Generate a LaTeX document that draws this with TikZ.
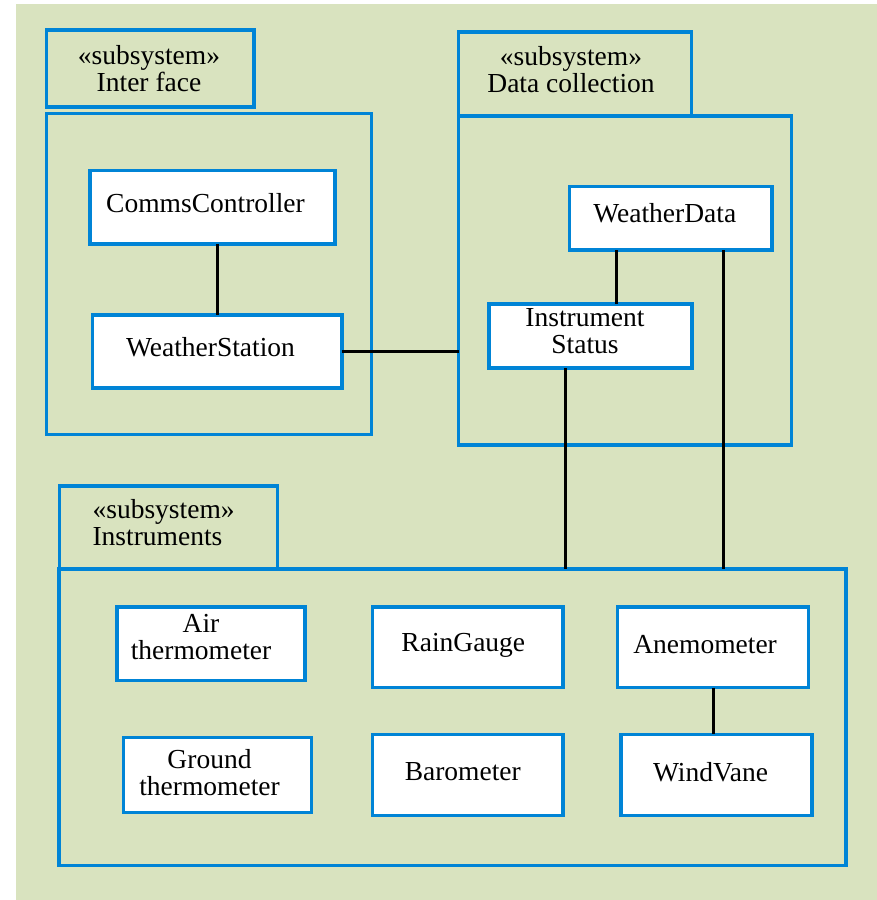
\documentclass[tikz,border=0pt]{standalone}
\usepackage{fontspec}
\setmainfont{Liberation Serif}
\definecolor{bgc}{RGB}{217,227,191}
\definecolor{umlblue}{RGB}{0,132,214}
\begin{document}
\begin{tikzpicture}[x=1pt,y=-1pt,
  pkg/.style={draw=umlblue,line width=3.5pt,rectangle,inner sep=0pt,outer sep=0pt},
  txt/.style={align=center,inner sep=0pt,font=\fontsize{27.5pt}{27pt}\selectfont},
  tabbox/.style={pkg},
  cls/.style={pkg,fill=white},
  link/.style={draw=black,line width=3pt}]
\useasboundingbox (0,0) rectangle (877,900);
\fill[bgc] (16,4) rectangle (877,900);

% package bodies
\node[pkg,minimum width=325pt,minimum height=321pt] (ifbody) at (209,274) {};
\node[pkg,minimum width=333pt,minimum height=329pt] (dcbody) at (625.2,280.5) {};
\node[pkg,minimum width=787pt,minimum height=296.5pt] (inbody) at (452.3,717.3) {};

% tabs
\node[tabbox,minimum width=207.5pt,minimum height=77pt,
  label={[txt,name=iftabt,xshift=-1pt,yshift=0pt]center:«subsystem»\\Inter face}] (iftab) at (150,68.5) {};
\node[tabbox,minimum width=232.6pt,minimum height=84pt,
  label={[txt,name=dctabt,xshift=-4pt,yshift=4.5pt]center:«subsystem»\\Data collection}] (dctab) at (575,74) {};
\node[tabbox,minimum width=218pt,minimum height=83pt,
  label={[txt,align=left,name=intabt,xshift=-5pt,yshift=4.5pt]center:«subsystem»\\Instruments}] (intab) at (168.6,527.5) {};

% classes
\node[cls,minimum width=245pt,minimum height=73.5pt,
  label={[txt,name=cct,xshift=-7pt,yshift=4pt]center:CommsController}] (cc) at (212.5,207) {};
\node[cls,minimum width=249.5pt,minimum height=73pt,
  label={[txt,name=wst,xshift=-6.5pt,yshift=4pt]center:WeatherStation}] (ws) at (217,351.5) {};
\node[cls,minimum width=202.3pt,minimum height=63.7pt,
  label={[txt,name=wdt,xshift=-6pt,yshift=5.5pt]center:WeatherData}] (wd) at (670.8,218.2) {};
\node[cls,minimum width=203pt,minimum height=64pt,
  label={[txt,name=ist,xshift=-5.5pt,yshift=5pt]center:Instrument\\Status}] (is) at (590.5,336) {};
\node[cls,minimum width=188pt,minimum height=73.7pt,
  label={[txt,name=airt,xshift=-10pt,yshift=6.5pt]center:Air\\thermometer}] (air) at (211,643.8) {};
\node[cls,minimum width=190.5pt,minimum height=80.7pt,
  label={[txt,name=rgt,xshift=-4.5pt,yshift=1.5pt]center:RainGauge}] (rg) at (467.8,647.3) {};
\node[cls,minimum width=191.2pt,minimum height=80.7pt,
  label={[txt,name=ant,xshift=-8pt,yshift=3pt]center:Anemometer}] (an) at (713.1,647.3) {};
\node[cls,minimum width=188pt,minimum height=74.7pt,
  label={[txt,name=gtt,xshift=-8pt,yshift=2.5pt]center:Ground\\thermometer}] (gt) at (217.5,775) {};
\node[cls,minimum width=190.5pt,minimum height=81.4pt,
  label={[txt,name=bat,xshift=-5pt,yshift=3pt]center:Barometer}] (ba) at (467.8,775) {};
\node[cls,minimum width=191.4pt,minimum height=81.4pt,
  label={[txt,name=wvt,xshift=-6pt,yshift=3pt]center:WindVane}] (wv) at (716.5,775) {};

% connectors
\draw[link] (ws.north) -- (ws.north |- cc.south);
\draw[link] (ws.east) -- (ws.east -| dcbody.west);
\draw[link] ([xshift=25.5pt]is.north) -- ([xshift=25.5pt]is.north |- wd.south);
\draw[link] ([xshift=-25.5pt]is.south) -- ([xshift=-25.5pt]is.south |- inbody.north);
\draw[link] ([xshift=52.2pt]wd.south) -- ([xshift=52.2pt]wd.south |- inbody.north);
\draw[link] (an.south) -- (an.south |- wv.north);
\end{tikzpicture}
\end{document}
